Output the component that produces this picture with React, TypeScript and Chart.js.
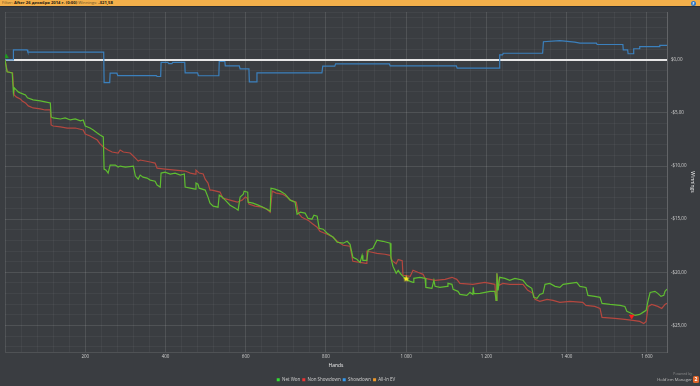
import React, { useEffect, useRef } from "react";
import { Chart, registerables } from "chart.js";

Chart.register(...registerables);

// ---------- axis ranges & tick labels ----------
const X_MIN = 0;
const X_MAX = 1650;
const Y_MIN = -27.5;
const Y_MAX = 4.5;
const xMajorTicks = [200, 400, 600, 800, 1000, 1200, 1400, 1600];
const xMajorLabels = ["200", "400", "600", "800", "1 000", "1 200", "1 400", "1 600"];
const yMajorTicks = [0, -5, -10, -15, -20, -25];
const yMajorLabels = ["$0,00", "-$5,00", "-$10,00", "-$15,00", "-$20,00", "-$25,00"];

// ---------- series ----------
const netWonHands = [0, 5, 6, 18, 21, 23, 28, 33, 38, 51, 56, 70, 88, 100, 113, 115, 120, 138, 150, 163, 175, 188, 195, 200, 212, 220, 230, 237, 245, 247, 252, 257, 262, 275, 282, 287, 300, 320, 325, 332, 337, 344, 354, 362, 374, 379, 387, 389, 399, 412, 424, 437, 447, 449, 462, 474, 476, 481, 484, 499, 506, 511, 519, 531, 534, 541, 549, 561, 574, 581, 586, 594, 596, 605, 606, 618, 631, 643, 653, 661, 663, 673, 686, 698, 711, 723, 728, 736, 748, 755, 765, 770, 778, 783, 793, 803, 818, 828, 843, 853, 860, 867, 877, 885, 890, 892, 902, 905, 917, 927, 942, 960, 962, 967, 975, 980, 985, 992, 1000, 1010, 1017, 1019, 1034, 1047, 1049, 1064, 1069, 1072, 1084, 1102, 1104, 1114, 1117, 1129, 1134, 1151, 1159, 1166, 1167, 1169, 1184, 1209, 1221, 1224, 1226, 1229, 1233, 1246, 1258, 1271, 1291, 1301, 1313, 1318, 1326, 1333, 1341, 1346, 1358, 1371, 1383, 1391, 1408, 1425, 1433, 1448, 1453, 1470, 1483, 1488, 1508, 1533, 1545, 1550, 1562, 1570, 1582, 1590, 1598, 1603, 1608, 1620, 1627, 1635, 1642, 1645, 1650];
const netWonValues = [0, -1.13, -1.13, -1.23, -3.11, -2.64, -2.83, -3.02, -3.11, -3.3, -3.58, -3.77, -3.87, -3.96, -4.06, -5.38, -5.47, -5.57, -5.47, -5.66, -5.57, -5.75, -5.66, -6.23, -6.42, -6.6, -6.89, -7.08, -7.26, -10.28, -10.38, -10.66, -9.91, -9.91, -10.09, -10.0, -10.09, -10.0, -10.94, -11.23, -10.85, -11.04, -11.13, -11.32, -11.42, -11.79, -11.98, -10.66, -10.57, -10.75, -10.66, -10.85, -10.75, -11.98, -12.08, -12.17, -11.6, -11.7, -12.08, -12.26, -12.92, -13.49, -13.77, -13.87, -12.74, -12.92, -13.21, -13.68, -13.96, -14.15, -12.92, -12.64, -12.36, -12.45, -13.4, -13.49, -13.68, -13.87, -14.06, -14.25, -12.08, -12.17, -12.36, -12.64, -13.21, -13.4, -14.53, -14.34, -14.43, -14.91, -15.0, -14.62, -14.72, -15.85, -15.94, -16.32, -16.7, -17.17, -17.26, -17.08, -17.36, -18.58, -18.77, -19.06, -18.4, -18.87, -18.87, -17.92, -17.74, -16.98, -17.08, -17.26, -18.68, -19.43, -20.09, -19.81, -20.09, -20.38, -20.66, -20.85, -20.94, -20.57, -20.47, -20.57, -21.42, -21.51, -20.75, -21.32, -21.42, -21.32, -21.04, -21.13, -21.6, -21.79, -22.08, -22.17, -21.89, -22.08, -21.42, -22.0, -21.98, -21.79, -21.79, -22.64, -20.09, -21.7, -20.47, -20.57, -20.75, -20.57, -20.75, -21.23, -21.51, -22.36, -22.45, -22.08, -21.98, -21.13, -21.04, -21.32, -21.42, -21.13, -21.04, -20.94, -21.32, -21.42, -22.17, -22.26, -22.36, -22.92, -23.02, -23.11, -23.21, -23.68, -23.87, -24.06, -23.96, -23.77, -23.58, -22.64, -21.89, -21.79, -21.98, -22.26, -22.17, -21.79, -21.58];

const nonShowdownHands = [0, 6, 19, 21, 23, 28, 38, 43, 51, 58, 70, 88, 100, 113, 115, 120, 138, 155, 175, 195, 200, 212, 230, 237, 245, 257, 267, 282, 287, 295, 312, 325, 332, 337, 362, 374, 379, 399, 424, 449, 462, 474, 476, 484, 494, 499, 506, 511, 516, 536, 543, 561, 579, 591, 599, 604, 608, 623, 641, 653, 661, 666, 676, 691, 703, 711, 726, 731, 740, 755, 768, 778, 785, 803, 818, 828, 843, 860, 867, 885, 900, 902, 915, 927, 947, 960, 965, 975, 980, 990, 992, 1010, 1017, 1029, 1042, 1047, 1072, 1097, 1114, 1126, 1134, 1166, 1196, 1221, 1224, 1226, 1231, 1241, 1258, 1291, 1303, 1316, 1321, 1333, 1351, 1366, 1383, 1408, 1440, 1448, 1470, 1483, 1488, 1520, 1545, 1565, 1582, 1592, 1598, 1603, 1612, 1627, 1637, 1645, 1650];
const nonShowdownValues = [0, -1.13, -1.23, -2.5, -3.3, -3.49, -3.68, -3.87, -4.06, -4.34, -4.53, -4.62, -4.72, -4.72, -6.13, -6.23, -6.32, -6.42, -6.42, -6.6, -6.98, -7.17, -7.55, -7.92, -8.21, -8.49, -8.68, -8.77, -8.49, -8.68, -8.77, -9.25, -9.53, -9.43, -9.62, -9.72, -10.19, -10.28, -10.38, -10.47, -10.66, -10.75, -10.38, -10.66, -10.75, -11.23, -11.6, -12.26, -12.26, -12.45, -13.02, -13.21, -13.4, -13.21, -12.92, -13.02, -13.58, -13.77, -13.87, -14.06, -14.34, -12.36, -12.55, -12.64, -12.92, -13.21, -13.4, -14.43, -14.81, -15.09, -15.47, -15.75, -16.13, -16.42, -16.7, -17.08, -17.45, -17.55, -18.96, -19.06, -19.15, -18.02, -18.11, -18.21, -18.3, -18.4, -18.9, -19.2, -18.8, -18.9, -20.28, -20.38, -19.81, -20.0, -20.19, -20.57, -20.75, -20.66, -20.47, -20.66, -21.04, -21.13, -20.94, -21.13, -22.64, -20.09, -21.23, -21.04, -21.13, -21.13, -21.7, -21.98, -22.55, -22.74, -22.55, -22.64, -22.83, -22.74, -22.83, -23.11, -23.21, -23.4, -24.25, -24.34, -24.43, -24.53, -24.62, -24.81, -24.62, -23.21, -23.02, -23.21, -23.4, -23.02, -22.92];

const showdownHands = [0, 20, 21, 55, 57, 246, 247, 261, 262, 279, 281, 377, 379, 388, 389, 406, 408, 416, 418, 448, 449, 480, 482, 533, 534, 548, 549, 584, 586, 608, 609, 626, 628, 790, 792, 822, 824, 958, 960, 1125, 1127, 1232, 1233, 1240, 1242, 1340, 1342, 1383, 1420, 1433, 1474, 1476, 1540, 1541, 1552, 1553, 1566, 1567, 1581, 1582, 1631, 1632, 1650];
const showdownValues = [0, 0, 0.94, 0.94, 0.73, 0.73, -2.14, -2.14, -1.26, -1.26, -1.48, -1.48, -1.57, -1.57, -0.25, -0.25, -0.35, -0.35, -0.24, -0.24, -1.23, -1.23, -1.5, -1.5, -0.16, -0.16, -0.57, -0.57, -0.85, -0.85, -2.08, -2.08, -1.23, -1.23, -0.6, -0.6, -0.38, -0.38, -0.57, -0.57, -0.78, -0.78, 0.47, 0.47, 0.62, 0.62, 1.7, 1.8, 1.67, 1.57, 1.57, 1.44, 1.44, 0.94, 0.94, 0.57, 0.57, 1.04, 1.04, 1.25, 1.25, 1.35, 1.35];

const allInEvHands: number[] = [];
const allInEvValues: number[] = [];

// markers: start, hand 1000 star, lowest point
const markerHands = [3, 1000, 1562];
const markerValues = [0.3, -20.62, -24.15];

// ---------- styles ----------
const BG = "#3a3d41";
const GRID_MAJOR = "rgba(255,255,255,0.11)";
const GRID_MINOR = "rgba(255,255,255,0.045)";
const ZERO_LINE = "#e6e6e6";
const TEXT = "#cfcfcf";
const FONT = '"Open Sans", "DejaVu Sans", sans-serif';

const seriesNames = ["Net Won", "Non Showdown", "Showdown", "All-In EV"];
const lineColors = ["#5fbd30", "#b4473f", "#3b80bd", "#e8962e"];
const legendColors = ["#33dd33", "#ee3333", "#3399ee", "#f09a2a"];

function pts(h: number[], v: number[]) {
  return h.map((x, i) => ({ x, y: v[i] }));
}

function makeStar(color: string, size: number) {
  const c = document.createElement("canvas");
  c.width = size;
  c.height = size;
  const g = c.getContext("2d")!;
  const cx = size / 2;
  const cy = size / 2;
  const R = size / 2;
  const r = R * 0.45;
  g.beginPath();
  for (let i = 0; i < 10; i++) {
    const a = -Math.PI / 2 + (i * Math.PI) / 5;
    const rad = i % 2 === 0 ? R : r;
    g.lineTo(cx + rad * Math.cos(a), cy + rad * Math.sin(a));
  }
  g.closePath();
  g.fillStyle = color;
  g.fill();
  return c;
}

// minor grid steps: every 40 hands and every $1
function yGridValues() {
  const out: number[] = [];
  for (let v = Math.ceil(Y_MIN); v <= Math.floor(Y_MAX); v++) out.push(v);
  out.push(Y_MAX);
  return out;
}

export default function App() {
  const ref = useRef<HTMLCanvasElement>(null);

  useEffect(() => {
    document.body.style.margin = "0";
    const star = makeStar("#ffee22", 7);
    const lineDs = (i: number, h: number[], v: number[]) => ({
      label: seriesNames[i],
      data: pts(h, v),
      borderColor: lineColors[i],
      backgroundColor: legendColors[i],
      borderWidth: 1.2,
      pointRadius: 0,
      tension: 0,
      fill: false,
    });
    const chart = new Chart(ref.current!, {
      type: "line",
      data: {
        datasets: [
          lineDs(0, netWonHands, netWonValues),
          lineDs(1, nonShowdownHands, nonShowdownValues),
          lineDs(2, showdownHands, showdownValues),
          lineDs(3, allInEvHands, allInEvValues),
          {
            label: "markers",
            data: pts(markerHands, markerValues),
            showLine: false,
            order: -1,
            pointStyle: ["triangle", star, "triangle"] as any,
            pointRadius: [2.6, 3.5, 2.8],
            pointRotation: [0, 0, 180],
            pointBackgroundColor: ["#1f9a1f", "#ffee22", "#ff1c1c"],
            pointBorderColor: ["#1f9a1f", "#ffee22", "#ff1c1c"],
            pointBorderWidth: 0.5,
            borderColor: "transparent",
            backgroundColor: "transparent",
          } as any,
        ],
      },
      options: {
        responsive: false,
        animation: false,
        devicePixelRatio: 1,
        layout: { padding: { top: 12, left: 5, right: 0, bottom: 0 } },
        plugins: {
          tooltip: { enabled: false },
          legend: {
            position: "bottom",
            fullSize: false,
            labels: {
              boxWidth: 3,
              boxHeight: 3,
              padding: 2,
              color: TEXT,
              font: { size: 4.5, family: FONT },
              filter: (item: any) => item.datasetIndex < 4,
              generateLabels: (ch: any) => {
                const base = Chart.defaults.plugins.legend.labels.generateLabels(ch);
                return base.map((it: any) => {
                  const c = legendColors[it.datasetIndex] || "transparent";
                  return { ...it, fillStyle: c, strokeStyle: c, lineWidth: 0 };
                });
              },
            },
          },
        },
        scales: {
          x: {
            type: "linear",
            min: X_MIN,
            max: X_MAX,
            afterFit: (s: any) => {
              s.height = 23.5;
            },
            ticks: {
              stepSize: 40,
              autoSkip: false,
              maxRotation: 0,
              padding: 2,
              color: TEXT,
              font: { size: 4.5, family: FONT },
              callback: (v: any) => {
                const n = Number(v);
                const i = xMajorTicks.findIndex((t) => Math.abs(t - n) < 1e-6);
                return i >= 0 ? xMajorLabels[i] : "";
              },
            },
            grid: {
              drawTicks: false,
              color: (ctx: any) => {
                const v = ctx.tick ? ctx.tick.value : 1;
                return v % 200 === 0 || v === X_MAX ? GRID_MAJOR : GRID_MINOR;
              },
            },
            border: { display: true, color: GRID_MAJOR },
            title: {
              display: true,
              text: "Hands",
              color: "#ececec",
              font: { size: 5, family: FONT },
              padding: { top: 0, bottom: 7 },
            },
          },
          y: {
            type: "linear",
            position: "right",
            min: Y_MIN,
            max: Y_MAX,
            afterBuildTicks: (s: any) => {
              s.ticks = yGridValues().map((value) => ({ value }));
            },
            afterFit: (s: any) => {
              s.width = 33;
            },
            ticks: {
              autoSkip: false,
              padding: 4,
              color: TEXT,
              font: { size: 4.5, family: FONT },
              callback: (v: any) => {
                const n = Number(v);
                const i = yMajorTicks.findIndex((t) => Math.abs(t - n) < 1e-6);
                return i >= 0 ? yMajorLabels[i] : "";
              },
            },
            grid: {
              drawTicks: false,
              color: (ctx: any) => {
                const v = ctx.tick ? ctx.tick.value : 1;
                if (Math.abs(v) < 1e-6) return ZERO_LINE;
                return Math.abs(v % 5) < 1e-6 ? GRID_MAJOR : GRID_MINOR;
              },
              lineWidth: (ctx: any) => (ctx.tick && Math.abs(ctx.tick.value) < 1e-6 ? 2 : 1),
            },
            border: { display: true, color: GRID_MAJOR },
            title: {
              display: true,
              text: "Winnings",
              color: "#ececec",
              font: { size: 5, family: FONT },
              padding: { top: 5, bottom: 0 },
            },
          },
        },
      } as any,
    });
    return () => chart.destroy();
  }, []);

  return (
    <div
      style={{
        position: "relative",
        width: 700,
        height: 386,
        overflow: "hidden",
        background: BG,
        fontFamily: FONT,
      }}
    >
      <canvas
        ref={ref}
        width={700}
        height={392}
        style={{ position: "absolute", left: 0, top: 0, width: 700, height: 392 }}
      />
      <div
        style={{
          position: "absolute",
          left: 0,
          top: 0,
          width: 700,
          height: 6,
          background: "#f3b04b",
          borderBottom: "1px solid #2b2d30",
          fontSize: "4.2px",
          lineHeight: "6px",
          whiteSpace: "nowrap",
          paddingLeft: 2,
          boxSizing: "content-box",
          color: "#6e5326",
        }}
      >
        <span>Filter: </span>
        <b style={{ color: "#1e1a12" }}>After 26 декабря 2014 г. (0:00)</b>
        <span> Winnings: </span>
        <b style={{ color: "#1e1a12" }}>-$21,58</b>
      </div>
      <div
        style={{
          position: "absolute",
          left: 691,
          top: 0.5,
          width: 5,
          height: 5,
          borderRadius: "50%",
          background: "#2a76c6",
          color: "#fff",
          fontSize: "3.5px",
          lineHeight: "5px",
          textAlign: "center",
          fontWeight: 700,
        }}
      >
        F
      </div>
      <div
        style={{
          position: "absolute",
          right: 8,
          top: 372,
          fontSize: "3.4px",
          lineHeight: "4px",
          color: "#8e8e8e",
          textAlign: "right",
          whiteSpace: "nowrap",
        }}
      >
        Powered by
      </div>
      <div
        style={{
          position: "absolute",
          right: 8,
          top: 377,
          fontSize: "4.2px",
          lineHeight: "5px",
          color: "#bdbdbd",
          textAlign: "right",
          whiteSpace: "nowrap",
        }}
      >
        Hold'em Manager
      </div>
      <div
        style={{
          position: "absolute",
          left: 693,
          top: 376,
          width: 6,
          height: 7,
          borderRadius: 1.5,
          background: "#e0652b",
          color: "#fff",
          fontSize: "5px",
          lineHeight: "7px",
          textAlign: "center",
          fontWeight: 700,
        }}
      >
        2
      </div>
    </div>
  );
}
